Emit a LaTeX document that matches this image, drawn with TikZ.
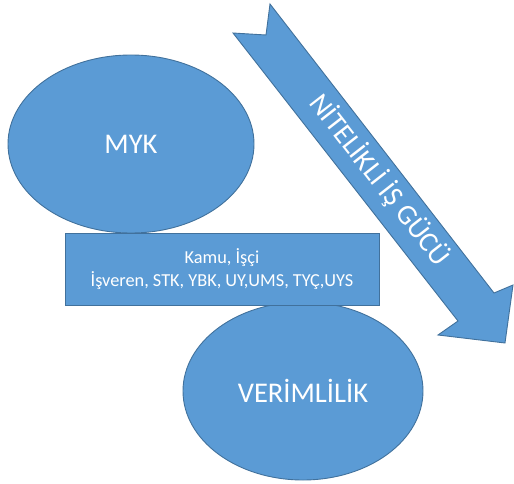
\documentclass[tikz,border=0pt]{standalone}
\usepackage{fontspec}
\setmainfont{Carlito}
\usetikzlibrary{shapes.geometric}
\definecolor{shapefill}{HTML}{5B9BD5}
\definecolor{shapeline}{HTML}{41719C}
\begin{document}
\begin{tikzpicture}[x=1pt,y=-1pt,
  shapestyle/.style={fill=shapefill,draw=shapeline,line width=0.9pt},
  oval/.style={shapestyle,ellipse,inner sep=0pt,text=white,font=\fontsize{28.5}{34}\selectfont},
  box/.style={shapestyle,rectangle,inner sep=0pt,text=white,align=center,font=\fontsize{18.3}{22.6}\selectfont},
  arrowtext/.style={text=white,inner sep=0pt,font=\fontsize{28.5}{34}\selectfont}]
\useasboundingbox (0,0) rectangle (514,484);
% ellipses
\node[oval,minimum width=246pt,minimum height=178pt] (myk) at (131,144) {MYK};
\node[oval,minimum width=240pt,minimum height=178pt] (ver) at (303,391) {VERİMLİLİK};
% box
\node[box,minimum width=314pt,minimum height=72pt] (stake) at (222,269) {Kamu, İşçi\\İşveren, STK, YBK, UY,UMS, TYÇ,UYS};
% notched arrow
\coordinate (tailtop) at (270,4);
\coordinate (notch) at (266,35);
\coordinate (tailleft) at (233,33);
\coordinate (innerlow) at (458,321);
\coordinate (barblow) at (438,335);
\coordinate (tip) at (505,343);
\coordinate (barbhigh) at (513,285);
\coordinate (innerhigh) at (494,293);
\draw[shapestyle,line join=miter] (tailtop) -- (notch) -- (tailleft) -- (innerlow) -- (barblow) -- (tip) -- (barbhigh) -- (innerhigh) -- cycle;
\node[arrowtext,rotate=-52] (skill) at (380,180) {NİTELİKLİ İŞ GÜCÜ};
\end{tikzpicture}
\end{document}
